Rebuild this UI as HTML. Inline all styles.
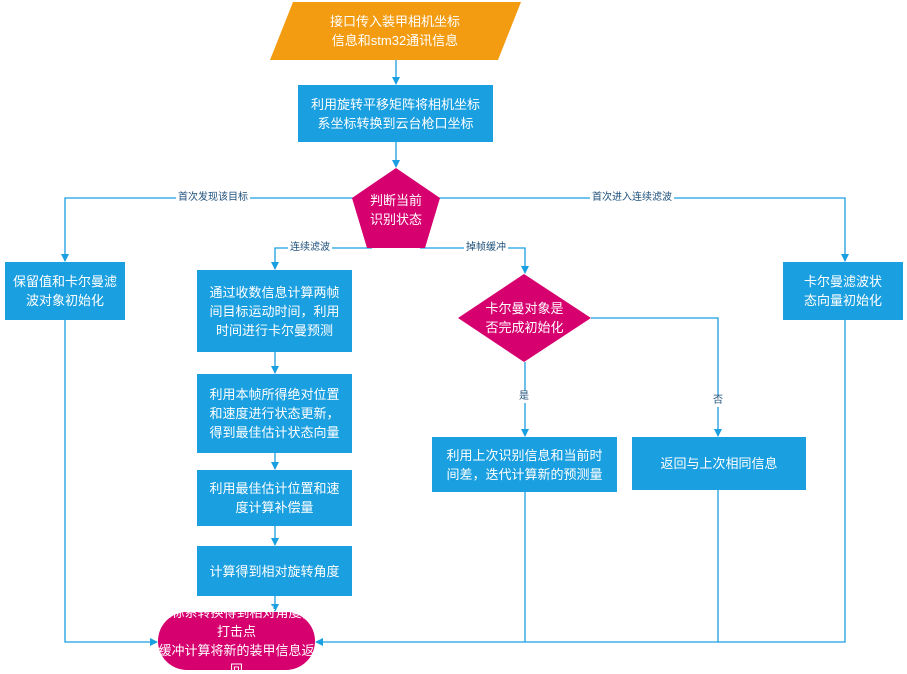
<!DOCTYPE html>
<html><head><meta charset="utf-8"><style>
body{margin:0;background:#fff;font-family:"Liberation Sans","Noto Sans CJK SC",sans-serif}
.t{position:absolute;color:#fff;font-size:13px;line-height:19px;text-align:center;display:flex;align-items:center;justify-content:center}
.b{background:#1a9fe0}
.l{position:absolute;font-size:10px;color:#1d4f7a;background:#fff;padding:0 2px;line-height:12px}
</style></head><body>
<div style="position:relative;width:907px;height:674px;overflow:hidden">
<svg width="907" height="674" style="position:absolute;left:0;top:0">
<defs><marker id="a" markerWidth="8" markerHeight="8" refX="7" refY="4" orient="auto" markerUnits="userSpaceOnUse"><path d="M0,0L8,4L0,8z" fill="#1a9fe0"/></marker></defs>
<g stroke="#1a9fe0" stroke-width="1.3" fill="none">
<path d="M396 60V84" marker-end="url(#a)"/>
<path d="M396 142V167" marker-end="url(#a)"/>
<path d="M355 198H65V261" marker-end="url(#a)"/>
<path d="M437 198H845V261" marker-end="url(#a)"/>
<path d="M372 248H275V269" marker-end="url(#a)"/>
<path d="M420 248H525V273" marker-end="url(#a)"/>
<path d="M275 352V373" marker-end="url(#a)"/>
<path d="M275 453V469" marker-end="url(#a)"/>
<path d="M275 526V545" marker-end="url(#a)"/>
<path d="M275 596V611" marker-end="url(#a)"/>
<path d="M525 362V436" marker-end="url(#a)"/>
<path d="M591 318H718V436" marker-end="url(#a)"/>
<path d="M65 320V642H157" marker-end="url(#a)"/>
<path d="M525 492V642"/>
<path d="M718 490V642"/>
<path d="M845 320V642H316" marker-end="url(#a)"/>
</g>
<polygon points="293,2 521,2 498,60 270,60" fill="#f39c12"/>
<polygon points="396,168 440,198 425,248 367,248 352,198" fill="#d6006f"/>
<polygon points="524,274 591,318 524,362 458,318" fill="#d6006f"/>
<rect x="158" y="612" width="157" height="58" rx="29" fill="#d6006f"/>
</svg>
<div class="t" style="left:290px;top:2px;width:210px;height:58px">接口传入装甲相机坐标<br>信息和stm32通讯信息</div>
<div class="t b" style="left:298px;top:85px;width:195px;height:57px">利用旋转平移矩阵将相机坐标<br>系坐标转换到云台枪口坐标</div>
<div class="t" style="left:352px;top:180px;width:88px;height:60px">判断当前<br>识别状态</div>
<div class="t b" style="left:5px;top:262px;width:120px;height:58px">保留值和卡尔曼滤<br>波对象初始化</div>
<div class="t b" style="left:197px;top:270px;width:155px;height:82px">通过收数信息计算两帧<br>间目标运动时间，利用<br>时间进行卡尔曼预测</div>
<div class="t b" style="left:783px;top:262px;width:120px;height:58px">卡尔曼滤波状<br>态向量初始化</div>
<div class="t" style="left:458px;top:298px;width:133px;height:40px">卡尔曼对象是<br>否完成初始化</div>
<div class="t b" style="left:197px;top:374px;width:155px;height:79px">利用本帧所得绝对位置<br>和速度进行状态更新，<br>得到最佳估计状态向量</div>
<div class="t b" style="left:197px;top:470px;width:155px;height:56px">利用最佳估计位置和速<br>度计算补偿量</div>
<div class="t b" style="left:197px;top:546px;width:155px;height:50px">计算得到相对旋转角度</div>
<div class="t b" style="left:432px;top:437px;width:185px;height:55px">利用上次识别信息和当前时<br>间差，迭代计算新的预测量</div>
<div class="t b" style="left:632px;top:437px;width:174px;height:53px">返回与上次相同信息</div>
<div class="t" style="left:158px;top:612px;width:157px;height:58px">坐标系转换得到相对角度，打击点<br>缓冲计算将新的装甲信息返回</div>
<div class="l" style="left:176px;top:192px">首次发现该目标</div>
<div class="l" style="left:590px;top:192px">首次进入连续滤波</div>
<div class="l" style="left:288px;top:242px">连续滤波</div>
<div class="l" style="left:464px;top:242px">掉帧缓冲</div>
<div class="l" style="left:517px;top:391px">是</div>
<div class="l" style="left:711px;top:395px">否</div>
</div>
</body></html>
